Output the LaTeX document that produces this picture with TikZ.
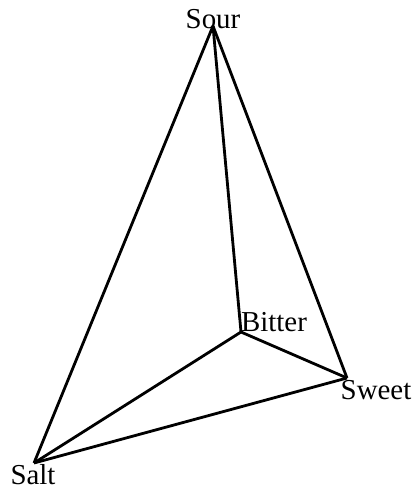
\documentclass[tikz,border=0pt]{standalone}
\usepackage{fontspec}
\setmainfont{Liberation Serif}
\begin{document}
\begin{tikzpicture}[x=1bp, y=-1bp, line width=2.8bp, line join=round,
  taste/.style={inner sep=0pt, font=\fontsize{29}{31}\selectfont}]
  \useasboundingbox (0,0) rectangle (413,490);
  \coordinate (Sour)   at (213, 26);
  \coordinate (Bitter) at (241, 332);
  \coordinate (Sweet)  at (347, 378);
  \coordinate (Salt)   at (34, 463);
  \node[taste] (SourL)   at (213, 19)  {Sour};
  \node[taste] (BitterL) at (274, 322) {Bitter};
  \node[taste] (SweetL)  at (376, 390) {Sweet};
  \node[taste] (SaltL)   at (33, 475)  {Salt};
  \draw (Sour) -- (Salt);
  \draw (Sour) -- (Bitter);
  \draw (Sour) -- (Sweet);
  \draw (Bitter) -- (Salt);
  \draw (Bitter) -- (Sweet);
  \draw (Salt) -- (Sweet);
\end{tikzpicture}
\end{document}
